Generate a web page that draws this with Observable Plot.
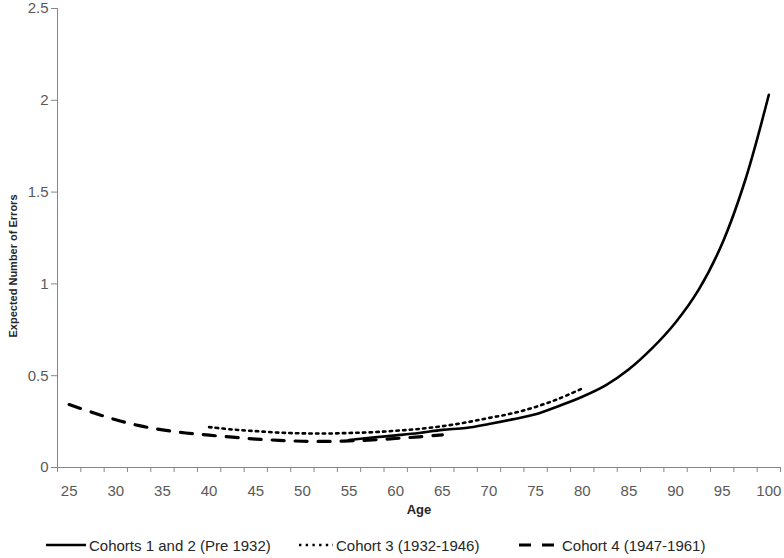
<!DOCTYPE html>
<html>
<head>
<meta charset="utf-8">
<script src="https://cdn.jsdelivr.net/npm/d3@7"></script>
<script src="https://cdn.jsdelivr.net/npm/@observablehq/plot@0.6"></script>
<style>
  html, body { margin: 0; padding: 0; background: #fff; }
  #wrap { width: 784px; position: relative; font-family: "Liberation Sans", Arial, sans-serif; }
  #legend { position: relative; height: 30px; width: 784px; font-size: 15px; color: #262626; }
  .item { position: absolute; top: 2px; height: 30px; display: flex; align-items: center; }
  .item svg { margin-right: 3px; }
</style>
</head>
<body>
<div id="wrap">
  <div id="chart"></div>
  <div id="legend"></div>
</div>
<script>
// Ages (category steps of 2.5 years)
const agesSolid = [55, 57.5, 60, 62.5, 65, 67.5, 70, 72.5, 75, 77.5, 80, 82.5, 85, 87.5, 90, 92.5, 95, 97.5, 100];
const valsSolid = [0.15, 0.163, 0.175, 0.188, 0.205, 0.215, 0.237, 0.262, 0.29, 0.335, 0.385, 0.447, 0.535, 0.65, 0.79, 0.97, 1.22, 1.57, 2.03];

const agesDotted = [40, 42.5, 45, 47.5, 50, 52.5, 55, 57.5, 60, 62.5, 65, 67.5, 70, 72.5, 75, 77.5, 80];
const valsDotted = [0.22, 0.207, 0.198, 0.19, 0.186, 0.185, 0.188, 0.192, 0.2, 0.21, 0.225, 0.245, 0.27, 0.295, 0.33, 0.375, 0.43];

const agesDashed = [25, 27.5, 30, 32.5, 35, 37.5, 40, 42.5, 45, 47.5, 50, 52.5, 55, 57.5, 60, 62.5, 65];
const valsDashed = [0.343, 0.3, 0.26, 0.228, 0.205, 0.188, 0.176, 0.165, 0.155, 0.148, 0.143, 0.142, 0.145, 0.15, 0.158, 0.167, 0.178];

const seriesNames = ["Cohorts 1 and 2 (Pre 1932)", "Cohort 3 (1932-1946)", "Cohort 4 (1947-1961)"];
const xTickLabels = [25, 30, 35, 40, 45, 50, 55, 60, 65, 70, 75, 80, 85, 90, 95, 100];
const yTickLabels = [0, 0.5, 1, 1.5, 2, 2.5];
const xTitle = "Age";
const yTitle = "Expected Number of Errors";

const solid = agesSolid.map((a, i) => ({age: a, v: valsSolid[i]}));
const dotted = agesDotted.map((a, i) => ({age: a, v: valsDotted[i]}));
const dashed = agesDashed.map((a, i) => ({age: a, v: valsDashed[i]}));
const catBounds = d3.range(0, 32).map(i => 23.75 + 2.5 * i);

const axisColor = "#868686";
const labelColor = "#595959";
const font = '"Liberation Sans", Arial, sans-serif';

const chart = Plot.plot({
  width: 784,
  height: 528,
  marginLeft: 57,
  marginRight: 4,
  marginTop: 8,
  marginBottom: 61,
  style: {fontFamily: font, fontSize: "15px", background: "#fff"},
  x: {domain: [23.75, 101.25], axis: null},
  y: {domain: [0, 2.5], axis: null},
  marks: [
    Plot.axisY({ticks: yTickLabels, tickSize: 6, tickPadding: 3, stroke: axisColor, color: labelColor, tickFormat: d => String(d), fontSize: 15, label: null}),
    Plot.axisX({ticks: xTickLabels, tickSize: 0, tickPadding: 18, color: labelColor, tickFormat: d => String(d), fontSize: 15, label: null}),
    Plot.axisX({ticks: catBounds, tickSize: 5, stroke: axisColor, tickFormat: () => "", label: null}),
    Plot.ruleX([23.75], {stroke: axisColor}),
    Plot.ruleY([0], {stroke: axisColor}),
    Plot.line(dashed, {x: "age", y: "v", stroke: "#000", strokeWidth: 3.2, strokeDasharray: "12,11", curve: "catmull-rom"}),
    Plot.line(dotted, {x: "age", y: "v", stroke: "#000", strokeWidth: 2.6, strokeDasharray: "2.4,4.3", curve: "catmull-rom"}),
    Plot.line(solid, {x: "age", y: "v", stroke: "#000", strokeWidth: 2.6, curve: "catmull-rom"}),
    Plot.text([xTitle], {frameAnchor: "bottom", dy: 46, fontWeight: "bold", fontSize: 13, fill: "#262626"}),
    Plot.text([yTitle], {frameAnchor: "left", textAnchor: "middle", dx: -44, dy: 28, rotate: -90, fontWeight: "bold", fontSize: 11, fill: "#262626"})
  ]
});
document.getElementById("chart").appendChild(chart);

// Legend
const legend = document.getElementById("legend");
const items = [
  {name: seriesNames[0], left: 46, w: 40, dash: null, sw: 2.6},
  {name: seriesNames[1], left: 299, w: 34, dash: "2.4,4.3", sw: 2.6},
  {name: seriesNames[2], left: 519, w: 40, dash: "12,11", sw: 3.2}
];
for (const it of items) {
  const div = document.createElement("div");
  div.className = "item";
  div.style.left = it.left + "px";
  const svg = d3.create("svg").attr("width", it.w).attr("height", 10);
  svg.append("line").attr("x1", 0).attr("x2", it.w).attr("y1", 5).attr("y2", 5)
    .attr("stroke", "#000").attr("stroke-width", it.sw)
    .attr("stroke-dasharray", it.dash);
  div.appendChild(svg.node());
  const span = document.createElement("span");
  span.textContent = it.name;
  div.appendChild(span);
  legend.appendChild(div);
}
</script>
</body>
</html>
